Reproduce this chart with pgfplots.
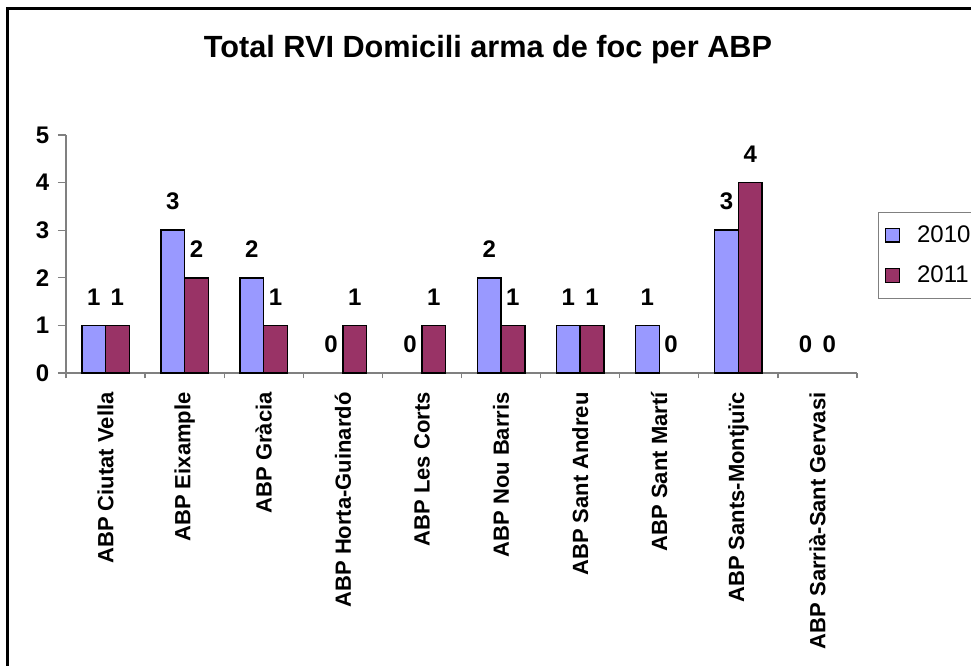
\documentclass[border=0pt]{standalone}
\usepackage{fontspec}
\setmainfont{Liberation Sans}
\usepackage{pgfplots}
\usepackage{pgfplotstable}
\pgfplotsset{compat=1.18}
\definecolor{c2010}{HTML}{9999FF}
\definecolor{c2011}{HTML}{993366}
\newcommand\lblfont{\fontsize{16.5}{18}\selectfont\bfseries}
\newcommand\numfont{\fontsize{18}{20}\selectfont\bfseries}

\pgfplotstableread{
idx y2010 y2011
0 1 1
1 3 2
2 2 1
3 0 1
4 0 1
5 2 1
6 1 1
7 1 0
8 3 4
9 0 0
}\data

\begin{document}
\begin{tikzpicture}
\useasboundingbox (0,0) rectangle (728.25pt,-499.5pt);
% outer chart frame
\draw[line width=1.9pt] (5.6pt,-520pt) -- (5.6pt,-6.4pt) -- (760pt,-6.4pt);
\node[font=\fontsize{23}{26}\selectfont\bfseries, anchor=base] at (366pt,-43.5pt)
  {Total RVI Domicili arma de foc per ABP};
\begin{axis}[
    at={(49.5pt,-279.75pt)}, anchor=south west,
    scale only axis, width=593.25pt, height=178.5pt,
    xmin=-0.5, xmax=9.5, ymin=0, ymax=5,
    axis x line*=bottom, axis y line*=left,
    axis line style={gray, line width=1pt},
    ybar, bar width=0.3,
    ytick={0,...,5},
    xtick={0,...,9},
    xticklabels={ABP Ciutat Vella, ABP Eixample, ABP Gràcia, ABP Horta-Guinardó,
      ABP Les Corts, ABP Nou Barris, ABP Sant Andreu, ABP Sant Martí,
      ABP Sants-Montjuïc, ABP Sarrià-Sant Gervasi},
    major x tick style={draw=none},
    minor xtick={-0.5,0.5,...,9.5},
    tick align=outside,
    major tick length=6pt, minor tick length=4pt,
    tick style={gray, line width=1pt},
    /pgf/number format/assume math mode=true,
    yticklabel style={font=\numfont},
    yticklabel shift=3pt,
    xticklabel style={font=\lblfont, rotate=90, anchor=east},
    xticklabel shift=5pt,
    nodes near coords,
    every node near coord/.append style={font=\numfont, anchor=south, inner sep=0pt, yshift=15pt, text=black},
    legend style={at={(1.0265,0.676)}, anchor=north west, draw=gray, line width=0.8pt,
      font=\fontsize{18}{20}\selectfont, inner xsep=5pt, inner ysep=8pt, row sep=12pt},
    legend cell align=left,
    legend image code/.code={\draw[#1, draw=black, line width=0.8pt] (0pt,-5pt) rectangle (10pt,5pt);
      \node[draw=none, fill=none, inner sep=0pt, minimum width=14pt] at (7pt,0pt) {};},
]
% bars (zero values are not drawn)
\addplot[fill=c2010, draw=black, line width=1.1pt, bar shift=-0.15,
  restrict y to domain=0.5:10, nodes near coords=\empty] table[x=idx, y=y2010] {\data};
\addplot[fill=c2011, draw=black, line width=1.1pt, bar shift=0.15,
  restrict y to domain=0.5:10, nodes near coords=\empty] table[x=idx, y=y2011] {\data};
% value labels
\addplot[draw=none, fill=none, bar shift=-0.15, forget plot] table[x=idx, y=y2010] {\data};
\addplot[draw=none, fill=none, bar shift=0.15, forget plot] table[x=idx, y=y2011] {\data};
\legend{2010,2011}
\end{axis}
\end{tikzpicture}
\end{document}
